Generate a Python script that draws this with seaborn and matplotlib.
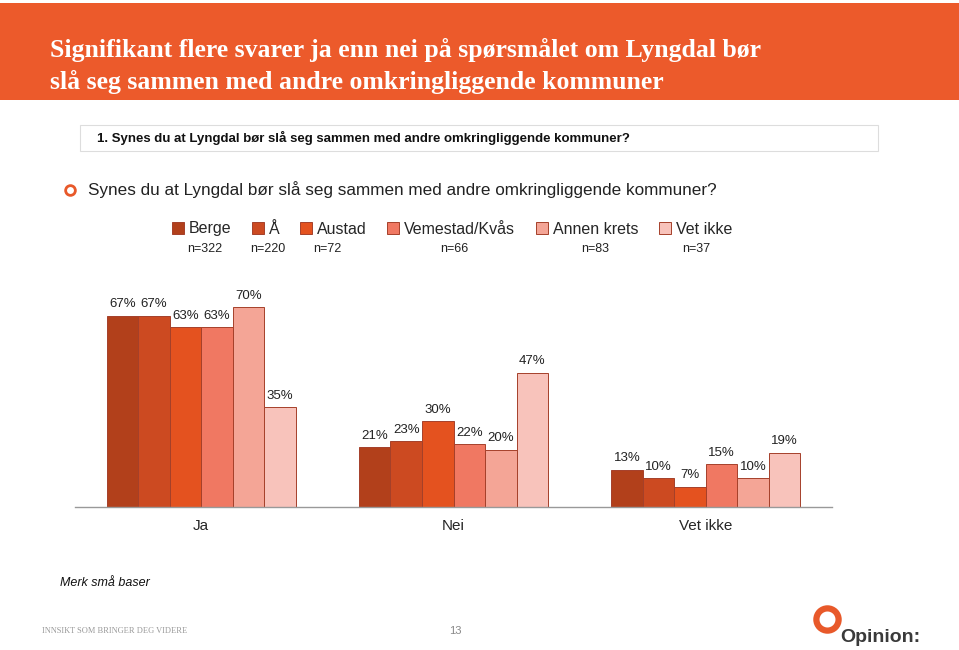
import matplotlib
matplotlib.use('Agg')
import matplotlib.pyplot as plt
import seaborn as sns
import pandas as pd
from matplotlib.patches import Rectangle
from matplotlib.lines import Line2D

# data
svar = ['Ja', 'Nei', 'Vet ikke']
grupper = ['Berge', 'Å', 'Austad', 'Vemestad/Kvås', 'Annen krets', 'Vet ikke']
antall = [322, 220, 72, 66, 83, 37]
berge = [67, 21, 13]
aa = [67, 23, 10]
austad = [63, 30, 7]
vemestad = [63, 22, 15]
annen_krets = [70, 20, 10]
vet_ikke = [35, 47, 19]

farger = ['#B2401B', '#CC4A21', '#E4521F', '#F07862', '#F4A596', '#F8C3BB']

verdier = [berge, aa, austad, vemestad, annen_krets, vet_ikke]
rader = []
for g, vals in zip(grupper, verdier):
    for s, v in zip(svar, vals):
        rader.append({'svar': s, 'gruppe': g, 'andel': v})
df = pd.DataFrame(rader)

sns.set_style('white')
plt.rcParams['font.family'] = ['Liberation Sans', 'DejaVu Sans']

W, H = 959, 650
fig = plt.figure(figsize=(W / 100, H / 100), dpi=100)

def fx(px):
    return px / W

def fy(py):
    return 1 - py / H

# header band
fig.patches.append(Rectangle((0, fy(100)), 1, fy(3) - fy(100), transform=fig.transFigure,
                             facecolor='#EC5A2B', edgecolor='none', zorder=0))
fig.text(fx(50), fy(50), 'Signifikant flere svarer ja enn nei på spørsmålet om Lyngdal bør',
         color='white', fontsize=18.5, fontweight='bold', family='Liberation Serif', va='center')
fig.text(fx(50), fy(82), 'slå seg sammen med andre omkringliggende kommuner',
         color='white', fontsize=18.5, fontweight='bold', family='Liberation Serif', va='center')

# question box
fig.patches.append(Rectangle((fx(80), fy(151)), fx(798), fy(125) - fy(151), transform=fig.transFigure,
                             facecolor='white', edgecolor='#DDDDDD', lw=0.8))
fig.text(fx(97), fy(138), '1. Synes du at Lyngdal bør slå seg sammen med andre omkringliggende kommuner?',
         fontsize=9.5, fontweight='bold', color='#111111', va='center')

# bullet + subtitle
fig.add_artist(Line2D([fx(70)], [fy(190)], marker='o', markersize=7, markerfacecolor='white',
                      markeredgecolor='#E8592A', markeredgewidth=2, transform=fig.transFigure))
fig.text(fx(88), fy(190), 'Synes du at Lyngdal bør slå seg sammen med andre omkringliggende kommuner?',
         fontsize=12.3, color='#222222', va='center')

# chart
ax = fig.add_axes([fx(75), fy(507), fx(757), fy(293) - fy(507)])
sns.barplot(data=df, x='svar', y='andel', hue='gruppe', order=svar, hue_order=grupper,
            palette=farger, saturation=1, width=0.75, edgecolor='#A5402A', linewidth=0.7, ax=ax)
for cont in ax.containers:
    ax.bar_label(cont, fmt='%.0f%%', padding=4, fontsize=9.5, color='#222222')

ax.set_xlim(-0.5, 2.5)
ax.set_ylim(0, 75)
ax.set_xlabel('')
ax.set_ylabel('')
ax.set_yticks([])
ax.tick_params(axis='x', length=0, pad=9, labelsize=11)
for s in ['top', 'right', 'left']:
    ax.spines[s].set_visible(False)
ax.spines['bottom'].set_color('#999999')
ax.spines['bottom'].set_linewidth(1)

handles, labels = ax.get_legend_handles_labels()
ax.get_legend().remove()
fig.legend(handles, labels, ncol=6, loc='center', bbox_to_anchor=(fx(452), fy(229)),
           frameon=False, fontsize=11.5, handlelength=0.75, handleheight=0.75,
           handletextpad=0.3, columnspacing=1.3)

n_x = [205, 268, 327, 454, 595, 696]
for x, n in zip(n_x, antall):
    fig.text(fx(x), fy(249), f'n={n}', fontsize=9, color='#222222', ha='center', va='center')

# footer
fig.text(fx(60), fy(583), 'Merk små baser', fontsize=9, style='italic', color='#111111', va='center')
fig.text(fx(42), fy(631), 'INNSIKT SOM BRINGER DEG VIDERE', fontsize=6, family='Liberation Serif',
         color='#999999', va='center')
fig.text(fx(455), fy(631), '13', fontsize=8, color='#888888', ha='center', va='center')
fig.add_artist(Line2D([fx(827)], [fy(619)], marker='o', markersize=16, markerfacecolor='white',
                      markeredgecolor='#E8592A', markeredgewidth=4.5, transform=fig.transFigure))
fig.text(fx(840), fy(637), 'Opinion:', fontsize=14, fontweight='bold', color='#3A3A3A', va='center')

fig.savefig('out.png', dpi=100)
